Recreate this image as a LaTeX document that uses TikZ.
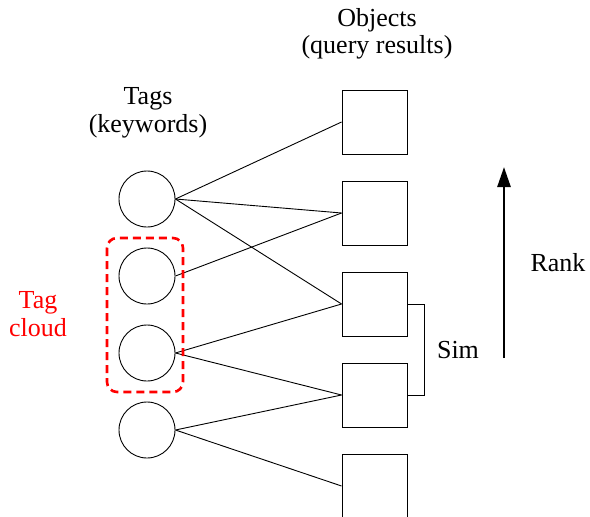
\documentclass[tikz,border=0pt]{standalone}
\usepackage{fontspec}
\setmainfont{Liberation Serif}
\usetikzlibrary{arrows.meta}
\begin{document}
\begin{tikzpicture}[x=1pt,y=-1pt,
  tag/.style={circle,draw,line width=0.9pt,minimum size=56pt,inner sep=0pt},
  obj/.style={rectangle,draw,line width=0.9pt,minimum width=65pt,minimum height=64pt,inner sep=0pt},
  lbl/.style={font=\fontsize{26}{30}\selectfont,inner sep=0pt,anchor=base},
  link/.style={line width=0.9pt},
  cloudbox/.style={draw=red,line width=2.6pt,dash pattern=on 8pt off 5pt,rounded corners=10pt},
  rankarrow/.style={line width=2.6pt,-{Triangle[length=20pt,width=13pt]}}]
\clip (0,0) rectangle (590,517);

% headings
\node[lbl] (hobj1) at (377,26) {Objects};
\node[lbl] (hobj2) at (377,53) {(query results)};
\node[lbl] (htag1) at (148,104) {Tags};
\node[lbl] (htag2) at (148,132) {(keywords)};

% tags
\node[tag] (t1) at (147,199) {};
\node[tag] (t2) at (147,276) {};
\node[tag] (t3) at (147,353) {};
\node[tag] (t4) at (147,430) {};

% objects
\node[obj] (o1) at (374.5,122) {};
\node[obj] (o2) at (374.5,213) {};
\node[obj] (o3) at (374.5,304) {};
\node[obj] (o4) at (374.5,395) {};
\node[obj] (o5) at (374.5,486) {};

% tag-object links
\draw[link] (t1.east) -- (o1.west);
\draw[link] (t1.east) -- (o2.west);
\draw[link] (t1.east) -- (o3.west);
\draw[link] (t2.east) -- (o2.west);
\draw[link] (t3.east) -- (o3.west);
\draw[link] (t3.east) -- (o4.west);
\draw[link] (t4.east) -- (o4.west);
\draw[link] (t4.east) -- (o5.west);

% tag cloud
\draw[cloudbox] (107,238) rectangle (183,392);
\node[lbl,text=red] (cl1) at (38,308) {Tag};
\node[lbl,text=red] (cl2) at (38,336) {cloud};

% similarity bracket
\draw[line width=0.9pt] (o3.east) -- ++(17,0) coordinate (simtop) |- (o4.east);
\node[lbl] (sim) at (458,358) {Sim};

% rank arrow
\coordinate (rlow) at (504,358);
\coordinate (rhigh) at (504,167);
\draw[rankarrow] (rlow) -- (rhigh);
\node[lbl] (rank) at (558,271) {Rank};
\end{tikzpicture}
\end{document}
